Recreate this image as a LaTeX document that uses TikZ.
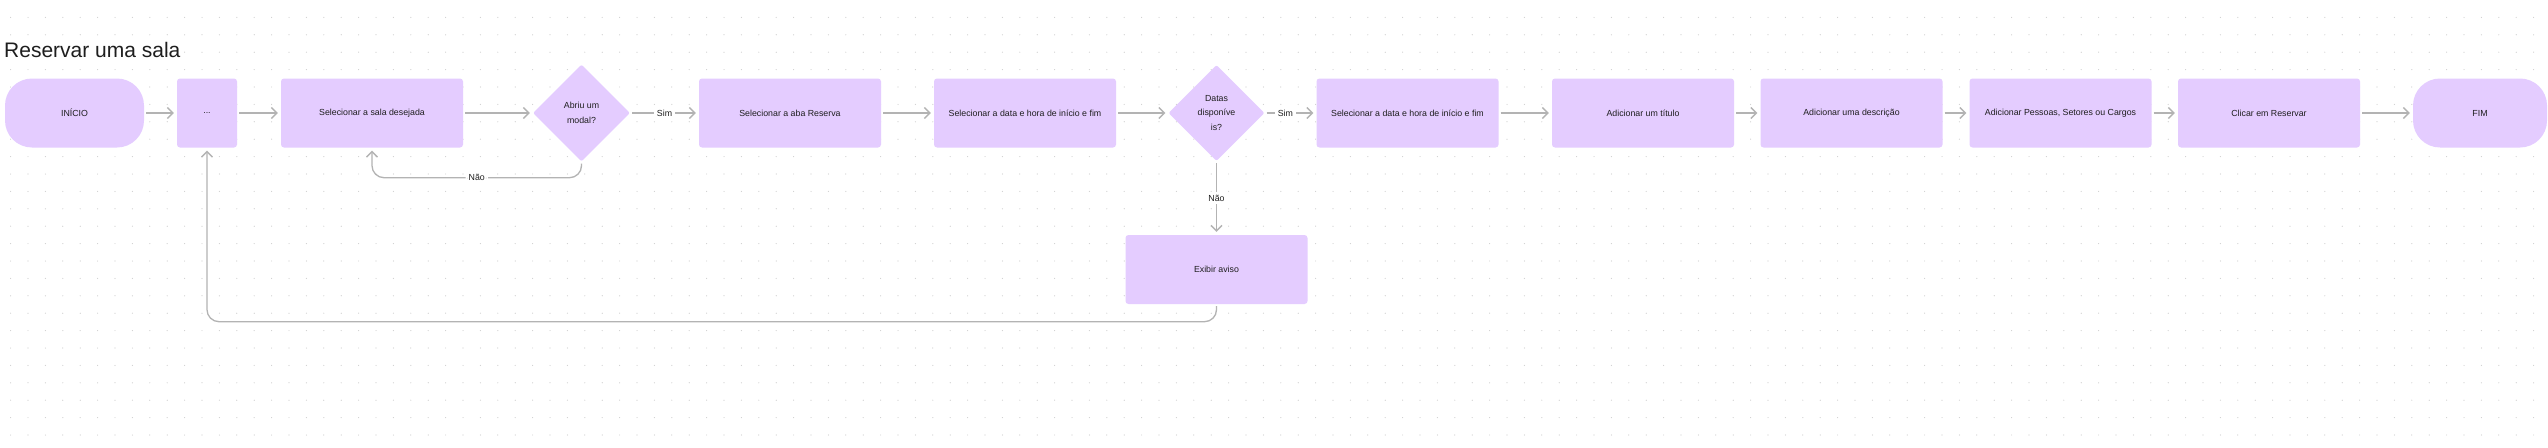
\documentclass[tikz,border=0pt]{standalone}
\usepackage{fontspec}
\setmainfont{Liberation Sans}
\usetikzlibrary{shapes.geometric}
\usetikzlibrary{arrows.meta}
\definecolor{lil}{HTML}{E4CCFF}
\definecolor{lgr}{HTML}{B3B3B3}
\definecolor{ink}{HTML}{1E1E1E}
\definecolor{dotc}{HTML}{CFCFCF}
\tikzset{%
    blk/.style={rectangle,fill=lil,rounded corners=3pt,minimum width=182pt,minimum height=69pt,inner sep=0pt,text=ink,font=\fontsize{8.8}{10}\selectfont},
    trm/.style={blk,rounded corners=27pt,minimum width=137pt},
    dmd/.style={diamond,fill=lil,rounded corners=2pt,minimum width=97pt,minimum height=97pt,inner sep=0pt,text=ink,align=center,font=\fontsize{8.8}{14.5}\selectfont},
    flw/.style={draw=lgr,line width=1.3pt,-{Straight Barb[length=5.5pt,width=11pt]},shorten >=3pt,shorten <=2pt},
    lbl/.style={fill=white,inner sep=3pt,text=ink,font=\fontsize{8.8}{10}\selectfont}
}

\begin{document}
\begin{tikzpicture}[x=1pt,y=-1pt]
            \fill[white] (0,0) rectangle (2548,447);
            \useasboundingbox (0,0) rectangle (2548,447);
            \foreach \i in {0,...,145}{
                \foreach \j in {1,...,25}{
                    \fill[dotc] ({10.6+17.4*\i},{17.4*\j}) circle (0.6pt);
                }
            }

            \node[anchor=base west,inner sep=0pt,text=ink,font=\fontsize{21}{25}\selectfont] (tit) at (4,57) {Reservar uma sala};

            \node[trm,minimum width=139pt] (ini) at (74.5,113) {INÍCIO};
            \node[blk,minimum width=60pt] (dots) at (207,113) {...};
            \node[blk] (sala) at (372,113) {Selecionar a sala desejada};
            \node[dmd] (modal) at (581.5,113) {Abriu um\\modal?};
            \node[blk] (aba) at (790,113) {Selecionar a aba Reserva};
            \node[blk] (data1) at (1025,113) {Selecionar a data e hora de início e fim};
            \node[dmd,minimum width=96pt,minimum height=96pt] (datas) at (1216.5,113) {Datas\\disponíve\\is?};
            \node[blk] (data2) at (1407.5,113) {Selecionar a data e hora de início e fim};
            \node[blk] (titulo) at (1643,113) {Adicionar um título};
            \node[blk] (desc) at (1851.5,113) {Adicionar uma descrição};
            \node[blk] (pessoas) at (2060.5,113) {Adicionar Pessoas, Setores ou Cargos};
            \node[blk] (clicar) at (2269,113) {Clicar em Reservar};
            \node[trm,minimum width=134pt] (fim) at (2480,113) {FIM};
            \node[blk] (aviso) at (1216.5,269.5) {Exibir aviso};

            \draw[flw] (ini) -- (dots);
            \draw[flw] (dots) -- (sala);
            \draw[flw] (sala) -- (modal);
            \draw[flw] (modal) -- node[lbl]{Sim} (aba);
            \draw[flw,rounded corners=12pt] (modal.south) |- node[lbl,pos=.75]{Não} ([yshift=-30pt]sala.south) -- (sala.south);
            \draw[flw] (aba) -- (data1);
            \draw[flw] (data1) -- (datas);
            \draw[flw] (datas) -- node[lbl,pos=.4]{Sim} (data2);
            \draw[flw] (datas) -- node[lbl]{Não} (aviso);
            \draw[flw,rounded corners=12pt] (aviso.south) |- ([yshift=-174pt]dots.south) -- (dots.south);
            \draw[flw] (data2) -- (titulo);
            \draw[flw] (titulo) -- (desc);
            \draw[flw] (desc) -- (pessoas);
            \draw[flw] (pessoas) -- (clicar);
            \draw[flw] (clicar) -- (fim);
        \end{tikzpicture}
\end{document}
